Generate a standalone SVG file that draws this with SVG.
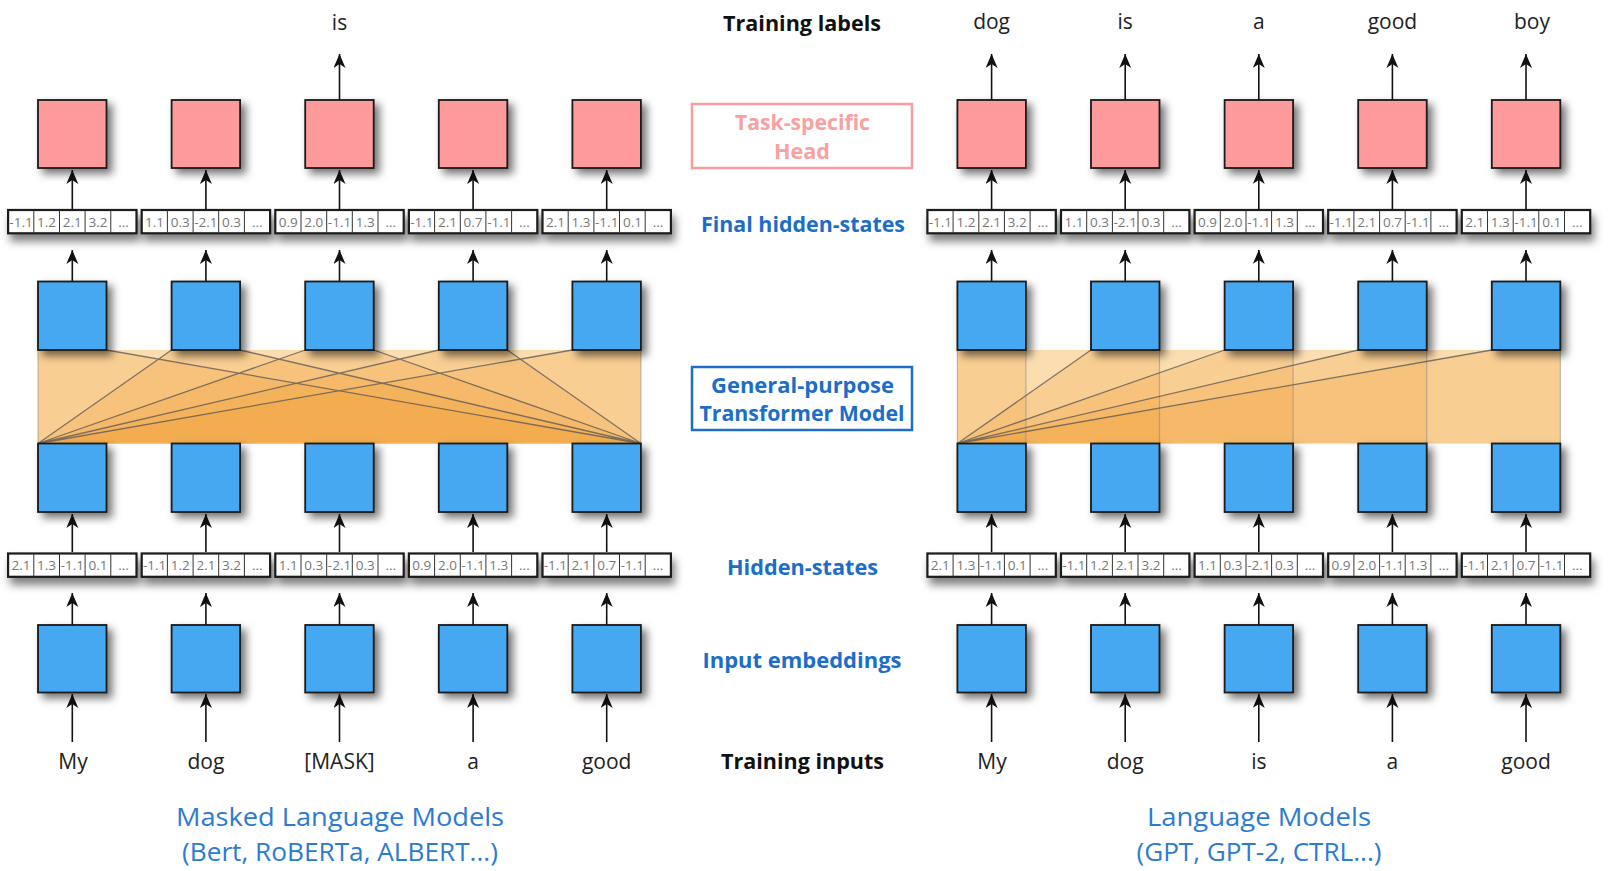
<svg xmlns="http://www.w3.org/2000/svg" width="1620" height="871" viewBox="0 0 1620 871">
<style>
.lbl{font-family:"Open Sans","Noto Sans","Liberation Sans",sans-serif;font-weight:bold;font-size:21px;text-anchor:middle}
.blue{fill:#1C6DC9}
.word{font-family:"Open Sans","Noto Sans","Liberation Sans",sans-serif;font-size:21px;fill:#222;text-anchor:middle}
.cap{font-family:"Open Sans","Noto Sans","Liberation Sans",sans-serif;font-size:25px;fill:#2B7BD3;text-anchor:middle}
.bb{fill:#45A8F0;stroke:#1a1a1a;stroke-width:1.8}
.rb{fill:#FD9A9B;stroke:#1a1a1a;stroke-width:1.8}
.vo{fill:#fff;stroke:#1a1a1a;stroke-width:2.2}
.vc{stroke:#333;stroke-width:1}
.vt{font-family:"Open Sans","Noto Sans","Liberation Sans",sans-serif;font-size:13.5px;fill:#777;text-anchor:middle}
.ar{stroke:#111;stroke-width:1.6;fill:none;marker-end:url(#ah)}
.band{fill:#FBDDB0}
.q{fill:#F39A2A;fill-opacity:0.22}
.al{stroke:#555;stroke-opacity:0.75;stroke-width:1.3;fill:none}
.ed{stroke:#888;stroke-opacity:0.55;stroke-width:1.2;fill:none}
</style>
<defs>
<filter id="sh" x="-30%" y="-30%" width="170%" height="170%">
<feDropShadow dx="5" dy="5" stdDeviation="4" flood-color="#000" flood-opacity="0.55"/>
</filter>
<filter id="vsh" x="-20%" y="-60%" width="140%" height="260%">
<feDropShadow dx="3" dy="7" stdDeviation="4" flood-color="#000" flood-opacity="0.5"/>
</filter>
<marker id="ah" markerUnits="userSpaceOnUse" markerWidth="16" markerHeight="14" refX="14" refY="6" orient="auto">
<path d="M0,0 L14,6 L0,12 L4,6 Z" fill="#111"/>
</marker>
</defs>
<rect width="1620" height="871" fill="#fff"/>

<g id="attention-left">
<rect class="band" x="38" y="350" width="602.9" height="93.5"/>
<polygon class="q" points="38,350 106.5,350 640.9,443.5 38,443.5"/>
<polygon class="q" points="171.6,350 240.1,350 640.9,443.5 38,443.5"/>
<polygon class="q" points="305.2,350 373.7,350 640.9,443.5 38,443.5"/>
<polygon class="q" points="438.8,350 507.3,350 640.9,443.5 38,443.5"/>
<polygon class="q" points="572.4,350 640.9,350 640.9,443.5 38,443.5"/>
<path class="ed" d="M38,350 V443.5 M640.9,350 V443.5"/>
<path class="al" d="M38,443.5 L171.6,350 M38,443.5 L305.2,350 M38,443.5 L438.8,350 M38,443.5 L572.4,350 M106.5,350 L640.9,443.5 M240.1,350 L640.9,443.5 M373.7,350 L640.9,443.5 M507.3,350 L640.9,443.5"/>
</g>
<g id="attention-right">
<rect class="band" x="957.4" y="350" width="602.9" height="93.5"/>
<polygon class="q" points="957.4,350 1025.9,350 1025.9,443.5 957.4,443.5"/>
<polygon class="q" points="1091,350 1159.5,350 1159.5,443.5 957.4,443.5"/>
<polygon class="q" points="1224.6,350 1293.1,350 1293.1,443.5 957.4,443.5"/>
<polygon class="q" points="1358.2,350 1426.7,350 1426.7,443.5 957.4,443.5"/>
<polygon class="q" points="1491.8,350 1560.3,350 1560.3,443.5 957.4,443.5"/>
<path class="ed" d="M957.4,350 V443.5 M1025.9,350 V443.5 M1159.5,350 V443.5 M1293.1,350 V443.5 M1426.7,350 V443.5 M1560.3,350 V443.5"/>
<path class="al" d="M957.4,443.5 L1091,350 M957.4,443.5 L1224.6,350 M957.4,443.5 L1358.2,350 M957.4,443.5 L1491.8,350"/>
</g>

<g id="connectors">
<path class="ar" d="M72.3,742 V694"/><path class="ar" d="M205.9,742 V694"/><path class="ar" d="M339.5,742 V694"/><path class="ar" d="M473.1,742 V694"/><path class="ar" d="M606.7,742 V694"/>
<path class="ar" d="M72.3,625 V593"/><path class="ar" d="M205.9,625 V593"/><path class="ar" d="M339.5,625 V593"/><path class="ar" d="M473.1,625 V593"/><path class="ar" d="M606.7,625 V593"/>
<path class="ar" d="M72.3,552 V514"/><path class="ar" d="M205.9,552 V514"/><path class="ar" d="M339.5,552 V514"/><path class="ar" d="M473.1,552 V514"/><path class="ar" d="M606.7,552 V514"/>
<path class="ar" d="M72.3,281 V250"/><path class="ar" d="M205.9,281 V250"/><path class="ar" d="M339.5,281 V250"/><path class="ar" d="M473.1,281 V250"/><path class="ar" d="M606.7,281 V250"/>
<path class="ar" d="M72.3,210 V170"/><path class="ar" d="M205.9,210 V170"/><path class="ar" d="M339.5,210 V170"/><path class="ar" d="M473.1,210 V170"/><path class="ar" d="M606.7,210 V170"/>
<path class="ar" d="M339.5,100 V54"/>
<path class="ar" d="M991.6,742 V694"/><path class="ar" d="M1125.2,742 V694"/><path class="ar" d="M1258.8,742 V694"/><path class="ar" d="M1392.4,742 V694"/><path class="ar" d="M1526,742 V694"/>
<path class="ar" d="M991.6,625 V593"/><path class="ar" d="M1125.2,625 V593"/><path class="ar" d="M1258.8,625 V593"/><path class="ar" d="M1392.4,625 V593"/><path class="ar" d="M1526,625 V593"/>
<path class="ar" d="M991.6,552 V514"/><path class="ar" d="M1125.2,552 V514"/><path class="ar" d="M1258.8,552 V514"/><path class="ar" d="M1392.4,552 V514"/><path class="ar" d="M1526,552 V514"/>
<path class="ar" d="M991.6,281 V250"/><path class="ar" d="M1125.2,281 V250"/><path class="ar" d="M1258.8,281 V250"/><path class="ar" d="M1392.4,281 V250"/><path class="ar" d="M1526,281 V250"/>
<path class="ar" d="M991.6,210 V170"/><path class="ar" d="M1125.2,210 V170"/><path class="ar" d="M1258.8,210 V170"/><path class="ar" d="M1392.4,210 V170"/><path class="ar" d="M1526,210 V170"/>
<path class="ar" d="M991.6,100 V54"/><path class="ar" d="M1125.2,100 V54"/><path class="ar" d="M1258.8,100 V54"/><path class="ar" d="M1392.4,100 V54"/><path class="ar" d="M1526,100 V54"/>
</g>

<g id="mlm-heads" filter="url(#sh)">
<rect class="rb" x="38" y="100" width="68.5" height="68"/>
<rect class="rb" x="171.6" y="100" width="68.5" height="68"/>
<rect class="rb" x="305.2" y="100" width="68.5" height="68"/>
<rect class="rb" x="438.8" y="100" width="68.5" height="68"/>
<rect class="rb" x="572.4" y="100" width="68.5" height="68"/>
</g>
<g id="mlm-top-layer" filter="url(#sh)">
<rect class="bb" x="38" y="281.5" width="68.5" height="68.5"/>
<rect class="bb" x="171.6" y="281.5" width="68.5" height="68.5"/>
<rect class="bb" x="305.2" y="281.5" width="68.5" height="68.5"/>
<rect class="bb" x="438.8" y="281.5" width="68.5" height="68.5"/>
<rect class="bb" x="572.4" y="281.5" width="68.5" height="68.5"/>
</g>
<g id="mlm-bottom-layer" filter="url(#sh)">
<rect class="bb" x="38" y="443.5" width="68.5" height="68.5"/>
<rect class="bb" x="171.6" y="443.5" width="68.5" height="68.5"/>
<rect class="bb" x="305.2" y="443.5" width="68.5" height="68.5"/>
<rect class="bb" x="438.8" y="443.5" width="68.5" height="68.5"/>
<rect class="bb" x="572.4" y="443.5" width="68.5" height="68.5"/>
</g>
<g id="mlm-embeddings" filter="url(#sh)">
<rect class="bb" x="38" y="625" width="68.5" height="67.5"/>
<rect class="bb" x="171.6" y="625" width="68.5" height="67.5"/>
<rect class="bb" x="305.2" y="625" width="68.5" height="67.5"/>
<rect class="bb" x="438.8" y="625" width="68.5" height="67.5"/>
<rect class="bb" x="572.4" y="625" width="68.5" height="67.5"/>
</g>

<g id="lm-heads" filter="url(#sh)">
<rect class="rb" x="957.4" y="100" width="68.5" height="68"/>
<rect class="rb" x="1091" y="100" width="68.5" height="68"/>
<rect class="rb" x="1224.6" y="100" width="68.5" height="68"/>
<rect class="rb" x="1358.2" y="100" width="68.5" height="68"/>
<rect class="rb" x="1491.8" y="100" width="68.5" height="68"/>
</g>
<g id="lm-top-layer" filter="url(#sh)">
<rect class="bb" x="957.4" y="281.5" width="68.5" height="68.5"/>
<rect class="bb" x="1091" y="281.5" width="68.5" height="68.5"/>
<rect class="bb" x="1224.6" y="281.5" width="68.5" height="68.5"/>
<rect class="bb" x="1358.2" y="281.5" width="68.5" height="68.5"/>
<rect class="bb" x="1491.8" y="281.5" width="68.5" height="68.5"/>
</g>
<g id="lm-bottom-layer" filter="url(#sh)">
<rect class="bb" x="957.4" y="443.5" width="68.5" height="68.5"/>
<rect class="bb" x="1091" y="443.5" width="68.5" height="68.5"/>
<rect class="bb" x="1224.6" y="443.5" width="68.5" height="68.5"/>
<rect class="bb" x="1358.2" y="443.5" width="68.5" height="68.5"/>
<rect class="bb" x="1491.8" y="443.5" width="68.5" height="68.5"/>
</g>
<g id="lm-embeddings" filter="url(#sh)">
<rect class="bb" x="957.4" y="625" width="68.5" height="67.5"/>
<rect class="bb" x="1091" y="625" width="68.5" height="67.5"/>
<rect class="bb" x="1224.6" y="625" width="68.5" height="67.5"/>
<rect class="bb" x="1358.2" y="625" width="68.5" height="67.5"/>
<rect class="bb" x="1491.8" y="625" width="68.5" height="67.5"/>
</g>

<g id="final-hidden-states">
<g filter="url(#vsh)">
<rect class="vo" x="8.1" y="210" width="128.4" height="23.3"/>
<rect class="vo" x="141.7" y="210" width="128.4" height="23.3"/>
<rect class="vo" x="275.3" y="210" width="128.4" height="23.3"/>
<rect class="vo" x="408.9" y="210" width="128.4" height="23.3"/>
<rect class="vo" x="542.5" y="210" width="128.4" height="23.3"/>
<rect class="vo" x="927.4" y="210" width="128.4" height="23.3"/>
<rect class="vo" x="1061" y="210" width="128.4" height="23.3"/>
<rect class="vo" x="1194.6" y="210" width="128.4" height="23.3"/>
<rect class="vo" x="1328.2" y="210" width="128.4" height="23.3"/>
<rect class="vo" x="1461.8" y="210" width="128.4" height="23.3"/>
</g>
<path class="vc" d="M33.8,210V233.3M59.5,210V233.3M85.1,210V233.3M110.8,210V233.3 M167.4,210V233.3M193.1,210V233.3M218.7,210V233.3M244.4,210V233.3 M301,210V233.3M326.7,210V233.3M352.3,210V233.3M378,210V233.3 M434.6,210V233.3M460.3,210V233.3M485.9,210V233.3M511.6,210V233.3 M568.2,210V233.3M593.9,210V233.3M619.5,210V233.3M645.2,210V233.3 M953.1,210V233.3M978.8,210V233.3M1004.4,210V233.3M1030.1,210V233.3 M1086.7,210V233.3M1112.4,210V233.3M1138,210V233.3M1163.7,210V233.3 M1220.3,210V233.3M1246,210V233.3M1271.6,210V233.3M1297.3,210V233.3 M1353.9,210V233.3M1379.6,210V233.3M1405.2,210V233.3M1430.9,210V233.3 M1487.5,210V233.3M1513.2,210V233.3M1538.8,210V233.3M1564.5,210V233.3"/>
<g class="vt">
<text x="21" y="226.8">-1.1</text><text x="46.6" y="226.8">1.2</text><text x="72.3" y="226.8">2.1</text><text x="98" y="226.8">3.2</text><text x="123.6" y="226.8">...</text>
<text x="154.6" y="226.8">1.1</text><text x="180.2" y="226.8">0.3</text><text x="205.9" y="226.8">-2.1</text><text x="231.6" y="226.8">0.3</text><text x="257.2" y="226.8">...</text>
<text x="288.2" y="226.8">0.9</text><text x="313.8" y="226.8">2.0</text><text x="339.5" y="226.8">-1.1</text><text x="365.2" y="226.8">1.3</text><text x="390.8" y="226.8">...</text>
<text x="421.8" y="226.8">-1.1</text><text x="447.4" y="226.8">2.1</text><text x="473.1" y="226.8">0.7</text><text x="498.8" y="226.8">-1.1</text><text x="524.4" y="226.8">...</text>
<text x="555.4" y="226.8">2.1</text><text x="581" y="226.8">1.3</text><text x="606.7" y="226.8">-1.1</text><text x="632.4" y="226.8">0.1</text><text x="658" y="226.8">...</text>
<text x="940.3" y="226.8">-1.1</text><text x="965.9" y="226.8">1.2</text><text x="991.6" y="226.8">2.1</text><text x="1017.3" y="226.8">3.2</text><text x="1042.9" y="226.8">...</text>
<text x="1073.9" y="226.8">1.1</text><text x="1099.5" y="226.8">0.3</text><text x="1125.2" y="226.8">-2.1</text><text x="1150.9" y="226.8">0.3</text><text x="1176.5" y="226.8">...</text>
<text x="1207.5" y="226.8">0.9</text><text x="1233.1" y="226.8">2.0</text><text x="1258.8" y="226.8">-1.1</text><text x="1284.5" y="226.8">1.3</text><text x="1310.1" y="226.8">...</text>
<text x="1341.1" y="226.8">-1.1</text><text x="1366.7" y="226.8">2.1</text><text x="1392.4" y="226.8">0.7</text><text x="1418.1" y="226.8">-1.1</text><text x="1443.7" y="226.8">...</text>
<text x="1474.7" y="226.8">2.1</text><text x="1500.3" y="226.8">1.3</text><text x="1526" y="226.8">-1.1</text><text x="1551.7" y="226.8">0.1</text><text x="1577.3" y="226.8">...</text>
</g>
</g>

<g id="hidden-states">
<g filter="url(#vsh)">
<rect class="vo" x="8.1" y="553.5" width="128.4" height="23.3"/>
<rect class="vo" x="141.7" y="553.5" width="128.4" height="23.3"/>
<rect class="vo" x="275.3" y="553.5" width="128.4" height="23.3"/>
<rect class="vo" x="408.9" y="553.5" width="128.4" height="23.3"/>
<rect class="vo" x="542.5" y="553.5" width="128.4" height="23.3"/>
<rect class="vo" x="927.4" y="553.5" width="128.4" height="23.3"/>
<rect class="vo" x="1061" y="553.5" width="128.4" height="23.3"/>
<rect class="vo" x="1194.6" y="553.5" width="128.4" height="23.3"/>
<rect class="vo" x="1328.2" y="553.5" width="128.4" height="23.3"/>
<rect class="vo" x="1461.8" y="553.5" width="128.4" height="23.3"/>
</g>
<path class="vc" d="M33.8,553.5V576.8M59.5,553.5V576.8M85.1,553.5V576.8M110.8,553.5V576.8 M167.4,553.5V576.8M193.1,553.5V576.8M218.7,553.5V576.8M244.4,553.5V576.8 M301,553.5V576.8M326.7,553.5V576.8M352.3,553.5V576.8M378,553.5V576.8 M434.6,553.5V576.8M460.3,553.5V576.8M485.9,553.5V576.8M511.6,553.5V576.8 M568.2,553.5V576.8M593.9,553.5V576.8M619.5,553.5V576.8M645.2,553.5V576.8 M953.1,553.5V576.8M978.8,553.5V576.8M1004.4,553.5V576.8M1030.1,553.5V576.8 M1086.7,553.5V576.8M1112.4,553.5V576.8M1138,553.5V576.8M1163.7,553.5V576.8 M1220.3,553.5V576.8M1246,553.5V576.8M1271.6,553.5V576.8M1297.3,553.5V576.8 M1353.9,553.5V576.8M1379.6,553.5V576.8M1405.2,553.5V576.8M1430.9,553.5V576.8 M1487.5,553.5V576.8M1513.2,553.5V576.8M1538.8,553.5V576.8M1564.5,553.5V576.8"/>
<g class="vt">
<text x="21" y="570.3">2.1</text><text x="46.6" y="570.3">1.3</text><text x="72.3" y="570.3">-1.1</text><text x="98" y="570.3">0.1</text><text x="123.6" y="570.3">...</text>
<text x="154.6" y="570.3">-1.1</text><text x="180.2" y="570.3">1.2</text><text x="205.9" y="570.3">2.1</text><text x="231.6" y="570.3">3.2</text><text x="257.2" y="570.3">...</text>
<text x="288.2" y="570.3">1.1</text><text x="313.8" y="570.3">0.3</text><text x="339.5" y="570.3">-2.1</text><text x="365.2" y="570.3">0.3</text><text x="390.8" y="570.3">...</text>
<text x="421.8" y="570.3">0.9</text><text x="447.4" y="570.3">2.0</text><text x="473.1" y="570.3">-1.1</text><text x="498.8" y="570.3">1.3</text><text x="524.4" y="570.3">...</text>
<text x="555.4" y="570.3">-1.1</text><text x="581" y="570.3">2.1</text><text x="606.7" y="570.3">0.7</text><text x="632.4" y="570.3">-1.1</text><text x="658" y="570.3">...</text>
<text x="940.3" y="570.3">2.1</text><text x="965.9" y="570.3">1.3</text><text x="991.6" y="570.3">-1.1</text><text x="1017.3" y="570.3">0.1</text><text x="1042.9" y="570.3">...</text>
<text x="1073.9" y="570.3">-1.1</text><text x="1099.5" y="570.3">1.2</text><text x="1125.2" y="570.3">2.1</text><text x="1150.9" y="570.3">3.2</text><text x="1176.5" y="570.3">...</text>
<text x="1207.5" y="570.3">1.1</text><text x="1233.1" y="570.3">0.3</text><text x="1258.8" y="570.3">-2.1</text><text x="1284.5" y="570.3">0.3</text><text x="1310.1" y="570.3">...</text>
<text x="1341.1" y="570.3">0.9</text><text x="1366.7" y="570.3">2.0</text><text x="1392.4" y="570.3">-1.1</text><text x="1418.1" y="570.3">1.3</text><text x="1443.7" y="570.3">...</text>
<text x="1474.7" y="570.3">-1.1</text><text x="1500.3" y="570.3">2.1</text><text x="1526" y="570.3">0.7</text><text x="1551.7" y="570.3">-1.1</text><text x="1577.3" y="570.3">...</text>
</g>
</g>

<g id="training-labels-words">
<text class="word" x="339.5" y="30">is</text>
<text class="word" x="991.6" y="29">dog</text>
<text class="word" x="1125.2" y="29">is</text>
<text class="word" x="1258.8" y="29">a</text>
<text class="word" x="1392.4" y="29">good</text>
<text class="word" x="1532" y="29">boy</text>
</g>
<g id="training-inputs-words">
<text class="word" x="73" y="769">My</text>
<text class="word" x="205.9" y="769">dog</text>
<text class="word" x="339.5" y="769">[MASK]</text>
<text class="word" x="473.1" y="769">a</text>
<text class="word" x="606.7" y="769">good</text>
<text class="word" x="992" y="769">My</text>
<text class="word" x="1125.2" y="769">dog</text>
<text class="word" x="1258.8" y="769">is</text>
<text class="word" x="1392.4" y="769">a</text>
<text class="word" x="1526" y="769">good</text>
</g>

<g id="label-training-labels"><text class="lbl" x="802" y="30.5" fill="#111" textLength="158" lengthAdjust="spacingAndGlyphs">Training labels</text></g>
<g id="label-head">
<rect x="692" y="104" width="220" height="64" fill="none" stroke="#F99C9C" stroke-width="2.5"/>
<text class="lbl" x="802.5" y="129.5" fill="#F9A0A0" textLength="135" lengthAdjust="spacingAndGlyphs">Task-specific</text>
<text class="lbl" x="802" y="158.5" fill="#F9A0A0" textLength="56" lengthAdjust="spacingAndGlyphs">Head</text>
</g>
<g id="label-final"><text class="lbl blue" x="803" y="231.5" textLength="204" lengthAdjust="spacingAndGlyphs">Final hidden-states</text></g>
<g id="label-transformer">
<rect x="692" y="367" width="220" height="63" fill="none" stroke="#1C6DC9" stroke-width="2.5"/>
<text class="lbl blue" x="802.5" y="392.5" textLength="183" lengthAdjust="spacingAndGlyphs">General-purpose</text>
<text class="lbl blue" x="802" y="420.5" textLength="205" lengthAdjust="spacingAndGlyphs">Transformer Model</text>
</g>
<g id="label-hidden"><text class="lbl blue" x="802.5" y="574.5" textLength="151" lengthAdjust="spacingAndGlyphs">Hidden-states</text></g>
<g id="label-embeddings"><text class="lbl blue" x="802" y="667.5" textLength="199" lengthAdjust="spacingAndGlyphs">Input embeddings</text></g>
<g id="label-training-inputs"><text class="lbl" x="802.5" y="768.5" fill="#111" textLength="163" lengthAdjust="spacingAndGlyphs">Training inputs</text></g>

<g id="caption-mlm">
<text class="cap" x="340" y="826" textLength="328" lengthAdjust="spacingAndGlyphs">Masked Language Models</text>
<text class="cap" x="340" y="861" textLength="316" lengthAdjust="spacingAndGlyphs">(Bert, RoBERTa, ALBERT...)</text>
</g>
<g id="caption-lm">
<text class="cap" x="1259" y="826" textLength="224" lengthAdjust="spacingAndGlyphs">Language Models</text>
<text class="cap" x="1259" y="861" textLength="245" lengthAdjust="spacingAndGlyphs">(GPT, GPT-2, CTRL...)</text>
</g>
</svg>
